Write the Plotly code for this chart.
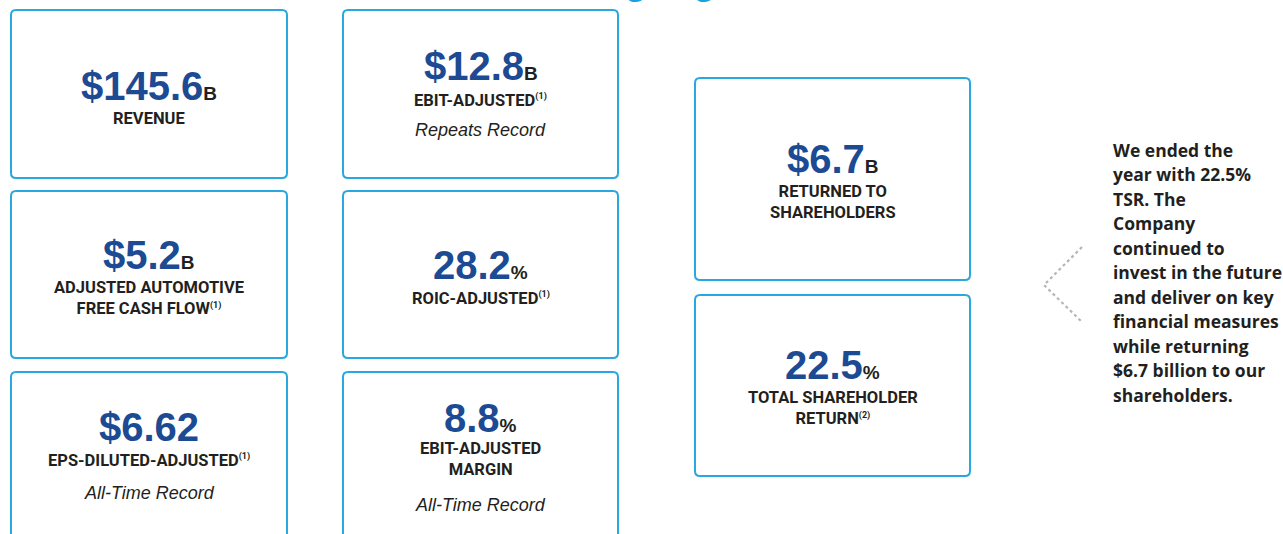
"""Key financial highlights tiles drawn with Plotly."""

import plotly.graph_objects as go

# ---- data -----------------------------------------------------------------
values = ["$145.6", "$12.8", "$5.2", "28.2", "$6.62", "8.8", "$6.7", "22.5"]
units = ["B", "B", "B", "%", "", "%", "B", "%"]
labels = [
    ["REVENUE"],
    ["EBIT-ADJUSTED(1)"],
    ["ADJUSTED AUTOMOTIVE", "FREE CASH FLOW(1)"],
    ["ROIC-ADJUSTED(1)"],
    ["EPS-DILUTED-ADJUSTED(1)"],
    ["EBIT-ADJUSTED", "MARGIN"],
    ["RETURNED TO", "SHAREHOLDERS"],
    ["TOTAL SHAREHOLDER", "RETURN(2)"],
]
notes = ["", "Repeats Record", "", "", "All-Time Record", "All-Time Record", "", ""]
title_text = "Highlights"
summary_lines = [
    "We ended the",
    "year with 22.5%",
    "TSR. The",
    "Company",
    "continued to",
    "invest in the future",
    "and deliver on key",
    "financial measures",
    "while returning",
    "$6.7 billion to our",
    "shareholders.",
]
chevron_x = [1082, 1044, 1082]
chevron_y = [247, 285, 322]

# ---- layout (pixel space, y grows downward) -------------------------------
W, H = 1283, 534
boxes = [  # x0, y0, x1, y1
    (11, 10, 287, 178),
    (343, 10, 618, 178),
    (11, 191, 287, 358),
    (343, 191, 618, 358),
    (11, 372, 287, 560),
    (343, 372, 618, 560),
    (695, 78, 970, 280),
    (695, 295, 970, 476),
]
num_y = [86, 66, 255, 265, 427, 418, 159, 365]
label_y = [118, 100, 297.5, 298, 460, 459, 201.5, 408]
note_y = [None, 130, None, None, 493, 505, None, None]
summary_x, summary_top, summary_step = 1111, 149.5, 24.5

BORDER = "#29a8e0"
NAVY = "#1c4a93"
INK = "#231f20"
NUM_FONT = "Liberation Sans, Arial, sans-serif"
LABEL_FONT = "Roboto, Liberation Sans, Arial, sans-serif"


def rounded_rect(x0, y0, x1, y1, r=5):
    return (
        f"M {x0 + r},{y0} L {x1 - r},{y0} Q {x1},{y0} {x1},{y0 + r} "
        f"L {x1},{y1 - r} Q {x1},{y1} {x1 - r},{y1} L {x0 + r},{y1} "
        f"Q {x0},{y1} {x0},{y1 - r} L {x0},{y0 + r} Q {x0},{y0} {x0 + r},{y0} Z"
    )


def fmt_label(line):
    # turn "(1)" style footnote markers into small superscripts
    for mark in ("(1)", "(2)"):
        if line.endswith(mark):
            return (
                f"{line[:-len(mark)]}<sup><span style='font-size:9px'>"
                f"{mark}</span></sup>"
            )
    return line


fig = go.Figure()

# dotted chevron pointing at the TSR tile
fig.add_trace(
    go.Scatter(
        x=chevron_x,
        y=chevron_y,
        mode="lines",
        line=dict(color="#b5b5b5", width=2.2, dash="dot"),
        hoverinfo="skip",
        showlegend=False,
    )
)

shapes = []
annotations = []
for i, (x0, y0, x1, y1) in enumerate(boxes):
    shapes.append(
        dict(
            type="path",
            path=rounded_rect(x0, y0, x1, y1),
            line=dict(color=BORDER, width=2),
            fillcolor="white",
            layer="below",
        )
    )
    cx = (x0 + x1) / 2
    unit = units[i]
    unit_html = (
        f"<span style='font-size:19px;color:{INK}'>{unit}</span>" if unit else ""
    )
    annotations.append(
        dict(
            x=cx, y=num_y[i], xref="x", yref="y",
            text=f"<b>{values[i]}{unit_html}</b>",
            showarrow=False, xanchor="center", yanchor="middle",
            font=dict(family=NUM_FONT, size=40, color=NAVY),
        )
    )
    annotations.append(
        dict(
            x=cx, y=label_y[i], xref="x", yref="y",
            text="<b>" + "<br>".join(fmt_label(s) for s in labels[i]) + "</b>",
            showarrow=False, xanchor="center", yanchor="middle",
            align="center",
            font=dict(family=LABEL_FONT, size=16.5, color=INK),
        )
    )
    if notes[i]:
        annotations.append(
            dict(
                x=cx, y=note_y[i], xref="x", yref="y",
                text=f"<i>{notes[i]}</i>",
                showarrow=False, xanchor="center", yanchor="middle",
                font=dict(family=NUM_FONT, size=18, color=INK),
            )
        )

# section heading, mostly cropped at the top edge
annotations.append(
    dict(
        x=580, y=4, xref="x", yref="y",
        text=title_text,
        showarrow=False, xanchor="left", yanchor="bottom",
        font=dict(family=NUM_FONT, size=44, color="#1ba1dc"),
    )
)

# summary paragraph on the right, one annotation per line
for k, line in enumerate(summary_lines):
    annotations.append(
        dict(
            x=summary_x, y=summary_top + k * summary_step, xref="x", yref="y",
            text=f"<b>{line}</b>",
            showarrow=False, xanchor="left", yanchor="middle", align="left",
            font=dict(family="Open Sans, sans-serif", size=17.5, color=INK),
        )
    )

fig.update_layout(
    width=W,
    height=H,
    margin=dict(l=0, r=0, t=0, b=0),
    paper_bgcolor="white",
    plot_bgcolor="white",
    shapes=shapes,
    annotations=annotations,
    xaxis=dict(range=[0, W], visible=False, fixedrange=True),
    yaxis=dict(range=[H, 0], visible=False, fixedrange=True),
    showlegend=False,
)

fig.write_html(
    "out.html",
    config={"displayModeBar": False},
    post_script="document.body.style.margin='0';",
)
